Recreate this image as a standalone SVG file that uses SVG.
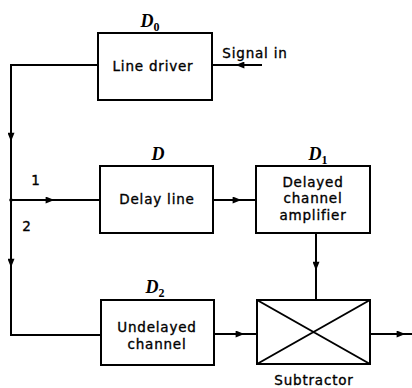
<svg xmlns="http://www.w3.org/2000/svg" width="412" height="388" viewBox="0 0 412 388">
<style>
.box{fill:none;stroke:#000;stroke-width:2}
.ln{fill:none;stroke:#000;stroke-width:2}
.t{font-family:"DejaVu Sans","Liberation Sans",sans-serif;font-size:13.5px;letter-spacing:0.8px;fill:#000;stroke:#000;stroke-width:0.35;text-anchor:middle}
.d{font-family:"Liberation Serif",serif;font-style:italic;font-weight:bold;font-size:18px;fill:#000;text-anchor:middle}
.s{font-size:12px;font-style:normal}
</style>
<defs>
<marker id="ah" viewBox="0 0 10 8" refX="5" refY="4" markerWidth="10" markerHeight="7" markerUnits="userSpaceOnUse" orient="auto">
<path d="M0,0 L10,4 L0,8 Z" fill="#000"/>
</marker>
</defs>
<rect width="412" height="388" fill="#fff"/>
<g id="connectors">
<path class="ln" d="M98,65 H11 V335 H101"/>
<path class="ln" d="M11,65 V137" marker-end="url(#ah)"/>
<path class="ln" d="M11,200 V263" marker-end="url(#ah)"/>
<circle cx="11" cy="200" r="1.8" fill="#000"/>
<path class="ln" d="M262,65 H240" marker-end="url(#ah)"/>
<path class="ln" d="M240,65 H212"/>
<path class="ln" d="M11,200 H50" marker-end="url(#ah)"/>
<path class="ln" d="M50,200 H100"/>
<path class="ln" d="M213,200 H237" marker-end="url(#ah)"/>
<path class="ln" d="M237,200 H256"/>
<path class="ln" d="M316,233 V266" marker-end="url(#ah)"/>
<path class="ln" d="M316,266 V300"/>
<path class="ln" d="M214,334 H240" marker-end="url(#ah)"/>
<path class="ln" d="M240,334 H257"/>
<path class="ln" d="M370,334 H401" marker-end="url(#ah)"/>
<path class="ln" d="M401,334 H412"/>
<text class="t" x="36" y="185">1</text>
<text class="t" x="27" y="231">2</text>
<text class="t" x="255" y="58">Signal in</text>
</g>
<g id="line-driver">
<rect class="box" x="98" y="33" width="114" height="67"/>
<text class="d" x="150" y="27">D<tspan class="s" dy="4">0</tspan></text>
<text class="t" x="153" y="71">Line driver</text>
</g>
<g id="delay-line">
<rect class="box" x="100" y="166" width="113" height="67"/>
<text class="d" x="158" y="160">D</text>
<text class="t" x="157" y="204">Delay line</text>
</g>
<g id="delayed-amp">
<rect class="box" x="256" y="166" width="114" height="67"/>
<text class="d" x="318" y="160">D<tspan class="s" dy="4">1</tspan></text>
<text class="t" x="313" y="187">Delayed</text>
<text class="t" x="313" y="203">channel</text>
<text class="t" x="313" y="220">amplifier</text>
</g>
<g id="undelayed">
<rect class="box" x="101" y="300" width="113" height="65"/>
<text class="d" x="155" y="293">D<tspan class="s" dy="4">2</tspan></text>
<text class="t" x="157" y="332">Undelayed</text>
<text class="t" x="157" y="349">channel</text>
</g>
<g id="subtractor">
<rect class="box" x="257" y="300" width="113" height="64"/>
<path class="ln" d="M257,300 L370,364 M370,300 L257,364"/>
<text class="t" x="314" y="385">Subtractor</text>
</g>
</svg>
